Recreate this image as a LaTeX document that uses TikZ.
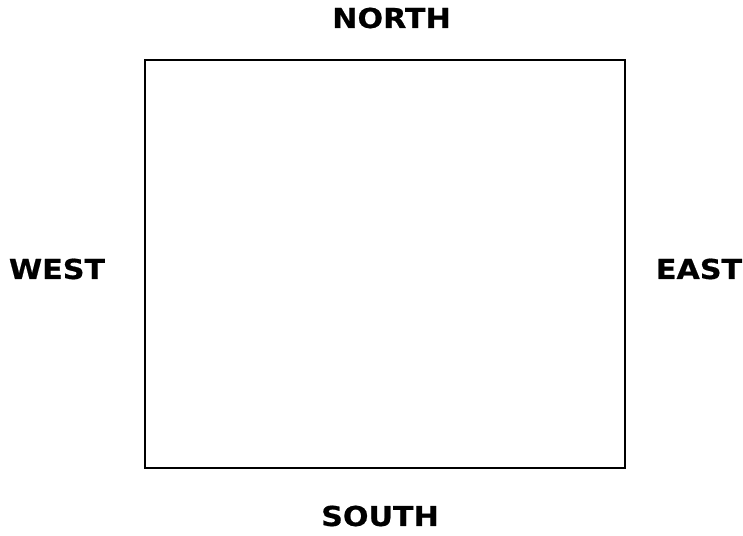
\documentclass[tikz,border=0pt]{standalone}
\usepackage{fontspec}
\setmainfont{DejaVu Sans}
\newfontfamily\lblfont[FakeStretch=1.1,FakeBold=0.6]{DejaVu Sans Bold}
\begin{document}
\begin{tikzpicture}[x=1pt,y=-1pt,
  lbl/.style={font=\lblfont\fontsize{27.4}{30}\selectfont, inner sep=0pt, anchor=center}]
\useasboundingbox (0,0) rectangle (743,535);
\node[draw, line width=1.3pt, minimum width=480pt, minimum height=408pt, inner sep=0pt] (box) at (385,264) {};
\node[lbl] (north) at (391.5,18) {NORTH};
\node[lbl] (south) at (380,516) {SOUTH};
\node[lbl] (west) at (57,269) {WEST};
\node[lbl] (east) at (699,269) {EAST};
\end{tikzpicture}
\end{document}
